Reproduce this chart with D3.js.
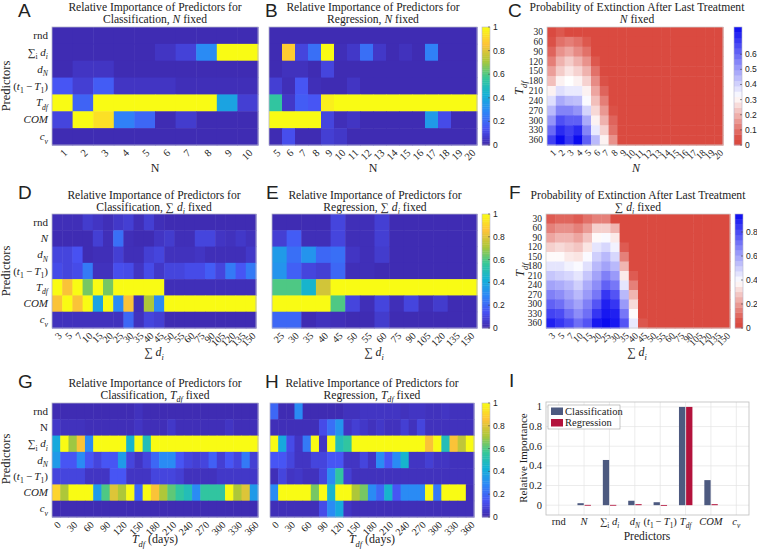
<!DOCTYPE html>
<html>
<head>
<meta charset="utf-8">
<script src="https://cdn.jsdelivr.net/npm/d3@7"></script>
<style>
body { margin: 0; background: #fff; }
svg { display: block; }
text { font-family: "Liberation Serif", "Times New Roman", serif; fill: #222; white-space: pre; }
text.sans { font-family: "Liberation Sans", Arial, sans-serif; }
</style>
</head>
<body>
<svg width="757" height="550"></svg>
<script>
/*
    predictor importance figure
*/

// label pieces: [text, style]  i = italic, s = subscript, si = italic subscript
var L = {
    rnd: [["rnd"]],
    N: [["N", "i"]],
    Nup: [["N"]],
    sumdi: [["∑"], ["i", "s"], [" "], ["d", "i"], ["i", "si"]],
    dN: [["d", "i"], ["N", "si"]],
    t1T1: [["("], ["t", "i"], ["1", "s"], ["\u2009−\u2009"], ["T", "i"], ["1", "s"], [")"]],
    Tdf: [["T", "i"], ["df", "si"]],
    COM: [["COM", "i"]],
    cv: [["c", "i"], ["v", "si"]]
};

var rowsA = [L.rnd, L.sumdi, L.dN, L.t1T1, L.Tdf, L.COM, L.cv];
var rowsD = [L.rnd, L.N, L.dN, L.t1T1, L.Tdf, L.COM, L.cv];
var rowsG = [L.rnd, L.Nup, L.sumdi, L.dN, L.t1T1, L.COM, L.cv];

var colsA = [1, 2, 3, 4, 5, 6, 7, 8, 9, 10];
var colsB = [5, 6, 7, 8, 9, 10, 11, 12, 13, 14, 15, 16, 17, 18, 19, 20];
var colsC = [1, 2, 3, 4, 5, 6, 7, 8, 9, 10, 11, 12, 13, 14, 15, 16, 17, 18, 19, 20];
var colsD = [3, 5, 7, 10, 15, 20, 25, 30, 35, 40, 45, 50, 55, 60, 75, 90, 105, 120, 135, 150];
var colsE = [25, 30, 35, 40, 45, 50, 55, 60, 75, 90, 105, 120, 135, 150];
var colsG = [0, 15, 30, 45, 60, 75, 90, 105, 120, 135, 150, 165, 180, 195, 210, 225, 240, 255, 270, 285, 300, 315, 330, 345, 360];
var ticksG = [0, 30, 60, 90, 120, 150, 180, 210, 240, 270, 300, 330, 360];
var tdfRows = [30, 60, 90, 120, 150, 180, 210, 240, 270, 300, 330, 360];

var valsA = [
    [0.02, 0.02, 0.02, 0.02, 0.02, 0.02, 0.02, 0.02, 0.02, 0.02],
    [0.02, 0.02, 0.02, 0.02, 0.02, 0.05, 0.09, 0.3, 1, 1],
    [0.02, 0.05, 0.05, 0.02, 0.02, 0.02, 0.02, 0.02, 0.02, 0.02],
    [0.15, 0.08, 0.17, 0.05, 0.05, 0.05, 0.03, 0.03, 0.03, 0.03],
    [1, 0.19, 1, 1, 1, 1, 1, 1, 0.38, 0.08],
    [0.1, 1, 0.93, 0.27, 0.2, 0.02, 0.07, 0.02, 0.02, 0.02],
    [0.02, 0.02, 0.02, 0.02, 0.02, 0.02, 0.02, 0.02, 0.02, 0.02]
];
var valsB = [
    [0.02, 0.02, 0.02, 0.02, 0.02, 0.02, 0.02, 0.02, 0.02, 0.02, 0.02, 0.02, 0.02, 0.02, 0.02, 0.02],
    [0.02, 0.88, 0.1, 0.22, 1, 0.03, 0.06, 0.22, 0.06, 0.02, 0.04, 0.02, 0.27, 0.02, 0.02, 0.02],
    [0.02, 0.04, 0.04, 0.02, 0.1, 0.02, 0.02, 0.02, 0.02, 0.02, 0.02, 0.02, 0.02, 0.02, 0.02, 0.02],
    [0.08, 0.03, 0.15, 0.03, 0.02, 0.02, 0.05, 0.02, 0.02, 0.02, 0.02, 0.02, 0.02, 0.02, 0.02, 0.02],
    [0.55, 0.06, 0.17, 0.15, 0.97, 1, 1, 1, 1, 1, 1, 1, 1, 1, 1, 1],
    [1, 1, 1, 1, 0.1, 0.03, 0.05, 0.02, 0.02, 0.02, 0.02, 0.02, 0.35, 0.12, 0.02, 0.02],
    [0.02, 0.13, 0.02, 0.02, 0.08, 0.06, 0.02, 0.02, 0.02, 0.02, 0.02, 0.02, 0.02, 0.02, 0.02, 0.02]
];
var probC = [
    [0.02, 0.06, 0.02, 0.02, 0, 0, 0, 0, 0, 0, 0, 0, 0, 0, 0, 0, 0, 0, 0, 0],
    [0.05, 0.1, 0.12, 0.1, 0.06, 0, 0, 0, 0, 0, 0, 0, 0, 0, 0, 0, 0, 0, 0, 0],
    [0.08, 0.15, 0.18, 0.14, 0.1, 0, 0, 0, 0, 0, 0, 0, 0, 0, 0, 0, 0, 0, 0, 0],
    [0.12, 0.2, 0.24, 0.2, 0.15, 0.06, 0, 0, 0, 0, 0, 0, 0, 0, 0, 0, 0, 0, 0, 0],
    [0.17, 0.24, 0.28, 0.25, 0.2, 0.1, 0, 0, 0, 0, 0, 0, 0, 0, 0, 0, 0, 0, 0, 0],
    [0.22, 0.3, 0.32, 0.3, 0.25, 0.14, 0.05, 0, 0, 0, 0, 0, 0, 0, 0, 0, 0, 0, 0, 0],
    [0.3, 0.38, 0.36, 0.36, 0.3, 0.18, 0.08, 0, 0, 0, 0, 0, 0, 0, 0, 0, 0, 0, 0, 0],
    [0.38, 0.48, 0.45, 0.44, 0.33, 0.22, 0.12, 0, 0, 0, 0, 0, 0, 0, 0, 0, 0, 0, 0, 0],
    [0.45, 0.55, 0.55, 0.52, 0.4, 0.26, 0.16, 0.05, 0, 0, 0, 0, 0, 0, 0, 0, 0, 0, 0, 0],
    [0.52, 0.65, 0.62, 0.62, 0.48, 0.3, 0.2, 0.08, 0, 0, 0, 0, 0, 0, 0, 0, 0, 0, 0, 0],
    [0.6, 0.72, 0.68, 0.72, 0.55, 0.36, 0.25, 0.1, 0, 0, 0, 0, 0, 0, 0, 0, 0, 0, 0, 0],
    [0.68, 0.78, 0.7, 0.78, 0.62, 0.45, 0.3, 0.15, 0, 0, 0, 0, 0, 0, 0, 0, 0, 0, 0, 0]
];
var valsD = [
    [0.03, 0.03, 0.03, 0.07, 0.05, 0.03, 0.06, 0.08, 0.03, 0.08, 0.03, 0.02, 0.02, 0.02, 0.02, 0.02, 0.02, 0.02, 0.02, 0.02],
    [0.02, 0.02, 0.02, 0.02, 0.08, 0.03, 0.22, 0.03, 0.02, 0.02, 0.05, 0.07, 0.03, 0.03, 0.1, 0.1, 0.05, 0.04, 0.06, 0.04],
    [0.1, 0.1, 0.14, 0.02, 0.03, 0.03, 0.08, 0.03, 0.03, 0.08, 0.1, 0.04, 0.04, 0.04, 0.05, 0.03, 0.03, 0.03, 0.03, 0.06],
    [0.12, 0.1, 0.12, 0.25, 0.04, 0.04, 0.13, 0.12, 0.05, 0.12, 0.06, 0.1, 0.1, 0.12, 0.12, 0.17, 0.1, 0.25, 0.15, 0.25],
    [1, 0.85, 1, 0.65, 1, 0.65, 1, 1, 1, 1, 1, 0.03, 0.03, 0.03, 0.03, 0.03, 0.03, 0.03, 0.03, 0.03],
    [0.85, 1, 0.85, 1, 0.38, 1, 0.3, 0.85, 0.03, 0.72, 0.3, 1, 1, 1, 1, 1, 1, 1, 1, 1],
    [0.04, 0.04, 0.04, 0.04, 0.04, 0.04, 0.04, 0.2, 0.04, 0.1, 0.08, 0.02, 0.02, 0.02, 0.02, 0.02, 0.02, 0.02, 0.02, 0.02]
];
var valsE = [
    [0.02, 0.02, 0.02, 0.02, 0.1, 0.03, 0.03, 0.08, 0.02, 0.02, 0.02, 0.02, 0.02, 0.02],
    [0.08, 0.17, 0.03, 0.03, 0.1, 0.03, 0.03, 0.08, 0.02, 0.02, 0.02, 0.02, 0.02, 0.02],
    [0.35, 0.22, 0.33, 0.2, 0.22, 0.05, 0.03, 0.07, 0.02, 0.02, 0.02, 0.02, 0.02, 0.02],
    [0.33, 0.18, 0.1, 0.08, 0.2, 0.03, 0.03, 0.02, 0.02, 0.02, 0.02, 0.02, 0.02, 0.02],
    [0.6, 0.6, 0.45, 0.78, 1, 1, 1, 1, 1, 1, 1, 1, 1, 1],
    [1, 1, 1, 1, 0.6, 0.1, 0.03, 0.1, 0.03, 0.1, 0.03, 0.07, 0.02, 0.02],
    [0.2, 0.2, 0.02, 0.04, 0.03, 0.02, 0.02, 0.07, 0.02, 0.02, 0.02, 0.02, 0.02, 0.02]
];
var probF = [
    [0.08, 0.1, 0.1, 0.08, 0.12, 0.15, 0.15, 0.05, 0, 0, 0, 0, 0, 0, 0, 0, 0, 0, 0, 0],
    [0.15, 0.18, 0.18, 0.15, 0.2, 0.3, 0.3, 0.25, 0, 0, 0, 0, 0, 0, 0, 0, 0, 0, 0, 0],
    [0.22, 0.25, 0.25, 0.22, 0.28, 0.38, 0.4, 0.35, 0, 0, 0, 0, 0, 0, 0, 0, 0, 0, 0, 0],
    [0.3, 0.32, 0.3, 0.28, 0.34, 0.45, 0.48, 0.42, 0.08, 0, 0, 0, 0, 0, 0, 0, 0, 0, 0, 0],
    [0.38, 0.38, 0.35, 0.34, 0.4, 0.5, 0.55, 0.48, 0.15, 0, 0, 0, 0, 0, 0, 0, 0, 0, 0, 0],
    [0.45, 0.45, 0.42, 0.4, 0.46, 0.55, 0.6, 0.55, 0.25, 0, 0, 0, 0, 0, 0, 0, 0, 0, 0, 0],
    [0.52, 0.5, 0.48, 0.45, 0.52, 0.6, 0.68, 0.62, 0.35, 0.08, 0, 0, 0, 0, 0, 0, 0, 0, 0, 0],
    [0.6, 0.58, 0.55, 0.5, 0.58, 0.65, 0.75, 0.7, 0.45, 0.15, 0, 0, 0, 0, 0, 0, 0, 0, 0, 0],
    [0.68, 0.65, 0.6, 0.55, 0.62, 0.7, 0.85, 0.78, 0.55, 0.25, 0, 0, 0, 0, 0, 0, 0, 0, 0, 0],
    [0.75, 0.72, 0.65, 0.6, 0.68, 0.78, 0.9, 0.85, 0.62, 0.32, 0, 0, 0, 0, 0, 0, 0, 0, 0, 0],
    [0.82, 0.8, 0.72, 0.65, 0.72, 0.85, 0.92, 0.9, 0.7, 0.38, 0, 0, 0, 0, 0, 0, 0, 0, 0, 0],
    [0.9, 0.85, 0.8, 0.72, 0.78, 0.92, 0.95, 0.92, 0.78, 0.44, 0.07, 0, 0, 0, 0, 0, 0, 0, 0, 0]
];
var valsG = [
    [0.02, 0.02, 0.02, 0.02, 0.02, 0.02, 0.02, 0.02, 0.02, 0.02, 0.04, 0.02, 0.02, 0.02, 0.02, 0.02, 0.02, 0.02, 0.02, 0.02, 0.02, 0.02, 0.02, 0.02, 0.02],
    [0.06, 0.04, 0.04, 0.04, 0.03, 0.03, 0.03, 0.03, 0.03, 0.03, 0.05, 0.03, 0.03, 0.03, 0.06, 0.03, 0.03, 0.03, 0.03, 0.03, 0.03, 0.05, 0.03, 0.03, 0.03],
    [0.4, 1, 0.7, 0.85, 0.3, 1, 1, 1, 1, 0.45, 1, 0.5, 1, 1, 1, 1, 1, 1, 1, 1, 1, 1, 1, 1, 1],
    [0.35, 0.15, 0.15, 0.3, 0.15, 0.1, 0.15, 0.15, 0.35, 0.1, 0.05, 0.1, 0.2, 0.3, 0.3, 0.15, 0.1, 0.08, 0.1, 0.18, 0.08, 0.15, 0.1, 0.25, 0.08],
    [0.1, 0.1, 0.1, 0.1, 0.05, 0.05, 0.05, 0.15, 0.15, 0.05, 0.05, 0.05, 0.1, 0.1, 0.1, 0.08, 0.04, 0.04, 0.04, 0.04, 0.06, 0.06, 0.06, 0.06, 0.06],
    [0.9, 0.72, 1, 1, 1, 0.35, 0.6, 0.8, 0.72, 1, 0.2, 1, 0.85, 0.72, 0.62, 0.55, 0.5, 0.3, 0.55, 0.55, 0.55, 1, 0.72, 0.8, 0.35],
    [0.02, 0.02, 0.02, 0.02, 0.02, 0.02, 0.02, 0.02, 0.02, 0.02, 0.02, 0.02, 0.02, 0.02, 0.02, 0.02, 0.02, 0.02, 0.02, 0.02, 0.02, 0.02, 0.02, 0.02, 0.02]
];
var valsH = [
    [0.2, 0.02, 0.02, 0.3, 0.02, 0.02, 0.02, 0.02, 0.02, 0.04, 0.04, 0.05, 0.05, 0.05, 0.05, 0.05, 0.04, 0.05, 0.05, 0.04, 0.04, 0.05, 0.04, 0.04, 0.04],
    [0.03, 0.03, 0.03, 0.03, 0.03, 0.03, 0.12, 0.22, 0.33, 0.05, 0.08, 0.06, 0.04, 0.06, 0.04, 0.04, 0.08, 0.04, 0.1, 0.04, 0.04, 0.04, 0.04, 0.04, 0.04],
    [1, 0.4, 0.12, 0.05, 0.25, 1, 0.05, 1, 0.5, 0.55, 1, 1, 1, 1, 1, 1, 1, 1, 1, 0.85, 1, 0.5, 0.85, 0.75, 1],
    [0.15, 0.15, 0.1, 0.05, 0.05, 0.1, 0.1, 0.15, 0.15, 0.05, 0.05, 0.1, 0.05, 0.3, 0.15, 0.3, 0.45, 0.05, 0.05, 0.08, 0.05, 0.05, 0.04, 0.04, 0.04],
    [0.03, 0.1, 0.05, 0.06, 0.04, 0.04, 0.1, 0.3, 0.55, 0.08, 0.04, 0.04, 0.04, 0.04, 0.04, 0.04, 0.04, 0.04, 0.04, 0.04, 0.04, 0.04, 0.04, 0.04, 0.04],
    [0.3, 1, 1, 1, 1, 0.65, 1, 0.45, 1, 1, 0.72, 0.65, 0.3, 0.2, 0.45, 0.15, 0.3, 0.3, 0.3, 1, 0.25, 1, 1, 1, 0.03],
    [0.03, 0.03, 0.03, 0.03, 0.03, 0.03, 0.12, 0.3, 0.4, 0.05, 0.03, 0.03, 0.03, 0.03, 0.03, 0.03, 0.03, 0.03, 0.03, 0.03, 0.03, 0.03, 0.03, 0.03, 0.03]
];

// panel I
var catsI = [L.rnd, L.N, L.sumdi, L.dN, L.t1T1, L.Tdf, L.COM, L.cv];
var clsI = [0, 0.02, 0.46, 0.045, 0.03, 1, 0.255, 0];
var regI = [0, 0.003, 0.003, 0.01, 0.002, 1, 0.01, 0];

var cbTicks = [0, 0.2, 0.4, 0.6, 0.8, 1];
var cbTicksC = [0, 0.1, 0.2, 0.3, 0.4, 0.5, 0.6];
var cbTicksF = [0, 0.2, 0.4, 0.6, 0.8];
var yTicksI = [0, 0.2, 0.4, 0.6, 0.8, 1];


var svg = d3.select("svg");

var parula = d3.scaleLinear()
    .domain([0, 1/7, 2/7, 3/7, 4/7, 5/7, 6/7, 1])
    .range(["#3e26a8", "#4852f4", "#2d87f7", "#11b1d6", "#37c897", "#abc739", "#fec338", "#f9fb14"])
    .clamp(true);

function redBlue(max) {
    return d3.scaleLinear()
        .domain([0, max * 0.05, max * 0.41, max])
        .range(["#da4a40", "#da4a40", "#ffffff", "#0a0af0"])
        .clamp(true);
}

function rich(t, tokens, fs) {
    var shift = 0;
    tokens.forEach(function(k) {
        var sub = k[1] == "s" || k[1] == "si";
        var want = sub ? fs * 0.3 : 0;
        t.append("tspan")
            .attr("dy", want - shift)
            .style("font-size", (sub ? fs * 0.7 : fs) + "px")
            .style("font-style", (k[1] == "i" || k[1] == "si") ? "italic" : "normal")
            .text(k[0]);
        shift = want;
    });
    return t;
}

function heatmap(o) {
    var g = svg.append("g");
    var x = d3.scaleBand().domain(o.cols).range([o.x0, o.x1]);
    var y = d3.scaleBand().domain(d3.range(o.vals.length)).range([o.y0, o.y1]);

    o.vals.forEach(function(row, r) {
        g.selectAll(null)
            .data(row)
            .enter()
            .append("rect")
            .attr("x", function(d, i) { return x(o.cols[i]); })
            .attr("y", y(r))
            .attr("width", x.bandwidth() + 0.5)
            .attr("height", y.bandwidth() + 0.5)
            .attr("fill", function(d) { return o.color(d); });
    });

    g.append("rect")
        .attr("x", o.x0).attr("y", o.y0)
        .attr("width", o.x1 - o.x0).attr("height", o.y1 - o.y0)
        .attr("fill", "none")
        .attr("stroke", o.border || "#b4b4cc")
        .attr("stroke-width", 0.8);

    // row labels
    if (o.rows) {
        o.rows.forEach(function(tok, r) {
            var t = g.append("text")
                .attr("x", o.x0 - 4)
                .attr("y", y(r) + y.bandwidth() / 2 + o.rowFs * 0.33)
                .attr("text-anchor", "end");
            if (typeof tok == "number") t.style("font-size", o.rowFs + "px").text(tok);
            else rich(t, tok, o.rowFs);
        });
    }

    // rotated column labels
    (o.ticks || o.cols).forEach(function(c) {
        g.append("text")
            .attr("transform", "translate(" + (x(c) + x.bandwidth() / 2 + 3) + "," + (o.y1 + 6) + ") rotate(-45)")
            .attr("text-anchor", "end")
            .attr("dy", "0.35em")
            .style("font-size", o.colFs + "px")
            .text(c);
    });
}

function colorbar(o) {
    var g = svg.append("g");
    var y = d3.scaleLinear().domain([0, o.max]).range([o.y1, o.y0]);
    var steps = d3.range(o.steps);
    var h = (o.y1 - o.y0) / o.steps;
    g.selectAll(null)
        .data(steps)
        .enter()
        .append("rect")
        .attr("x", o.x0)
        .attr("y", function(i) { return o.y1 - (i + 1) * h; })
        .attr("width", o.x1 - o.x0)
        .attr("height", h + 0.4)
        .attr("fill", function(i) { return o.color((i + 0.5) / o.steps * o.max); });
    g.append("rect")
        .attr("x", o.x0).attr("y", o.y0)
        .attr("width", o.x1 - o.x0).attr("height", o.y1 - o.y0)
        .attr("fill", "none").attr("stroke", "#b4b4cc").attr("stroke-width", 0.6);
    o.ticks.forEach(function(v) {
        g.append("line")
            .attr("x1", o.x1 - 2).attr("x2", o.x1)
            .attr("y1", y(v)).attr("y2", y(v))
            .attr("stroke", "#444").attr("stroke-width", 0.6);
        g.append("text")
            .attr("class", "sans")
            .attr("x", o.x1 + 3)
            .attr("y", y(v) + 3)
            .style("font-size", "8.5px")
            .text(v == 0 || v == 1 ? String(v) : v.toFixed(1));
    });
}

function letter(s, x, y) {
    svg.append("text").attr("class", "sans")
        .attr("x", x).attr("y", y)
        .style("font-size", "19px")
        .text(s);
}

function title(cx, yb, line1, line2) {
    svg.append("text")
        .attr("x", cx).attr("y", yb)
        .attr("text-anchor", "middle")
        .style("font-size", "11.6px")
        .text(line1);
    rich(svg.append("text").attr("x", cx).attr("y", yb + 12).attr("text-anchor", "middle"), line2, 11.6);
}

function label(tokens, x, y, fs, rot) {
    var t = svg.append("text")
        .attr("text-anchor", "middle")
        .attr("transform", "translate(" + x + "," + y + ")" + (rot ? " rotate(-90)" : ""));
    rich(t, tokens, fs);
}

var relTitle = "Relative Importance of Predictors for";
var sumD = [["∑ "], ["d", "i"], ["i", "si"]];

// ---- row 1 ----
letter("A", 18, 16.5);
title(155, 11, relTitle, [["Classification, "], ["N", "i"], [" fixed"]]);
heatmap({x0: 52, x1: 258, y0: 27, y1: 145, cols: colsA, vals: valsA, color: parula, rows: rowsA, rowFs: 11, colFs: 10.5});
label([["N"]], 155, 172, 12);
label([["Predictors"]], 10, 86, 12.5, true);

letter("B", 265, 16.5);
title(373, 11, relTitle, [["Regression, "], ["N", "i"], [" fixed"]]);
heatmap({x0: 269, x1: 477, y0: 27, y1: 145, cols: colsB, vals: valsB, color: parula, colFs: 10.5});
colorbar({x0: 482, x1: 490, y0: 27, y1: 145, max: 1, color: parula, ticks: cbTicks, steps: 64});
label([["N"]], 373, 172, 12);

letter("C", 508, 16.5);
title(637, 11, "Probability of Extinction After Last Treatment", [["N", "i"], [" fixed"]]);
var colC = redBlue(0.78);
heatmap({x0: 547, x1: 723, y0: 27, y1: 145, cols: colsC, vals: probC, color: colC, rows: tdfRows, rowFs: 9.5, colFs: 9.5, border: "#d0d0d0"});
colorbar({x0: 734, x1: 742, y0: 27, y1: 145, max: 0.78, color: colC, ticks: cbTicksC, steps: 22});
label([["N", "i"]], 636, 172, 12);
label(L.Tdf, 523, 88, 12.5, true);

// ---- row 2 ----
letter("D", 18, 199);
title(154, 198.5, relTitle, [["Classification, "]].concat(sumD, [[" fixed"]]));
heatmap({x0: 52, x1: 256, y0: 214, y1: 328, cols: colsD, vals: valsD, color: parula, rows: rowsD, rowFs: 11, colFs: 10});
label(sumD, 154, 356, 12);
label([["Predictors"]], 10, 271, 12.5, true);

letter("E", 266, 199);
title(375, 198.5, relTitle, [["Regression, "]].concat(sumD, [[" fixed"]]));
heatmap({x0: 272, x1: 477, y0: 214, y1: 328, cols: colsE, vals: valsE, color: parula, colFs: 10});
colorbar({x0: 482, x1: 490, y0: 214, y1: 328, max: 1, color: parula, ticks: cbTicks, steps: 64});
label(sumD, 374, 356, 12);

letter("F", 509, 199);
title(638, 198.5, "Probability of Extinction After Last Treatment", sumD.concat([[" fixed"]]));
var colF = redBlue(0.95);
heatmap({x0: 546, x1: 730, y0: 214, y1: 328, cols: colsD, vals: probF, color: colF, rows: tdfRows, rowFs: 9.5, colFs: 9.5, border: "#d0d0d0"});
colorbar({x0: 735, x1: 743, y0: 214, y1: 328, max: 0.95, color: colF, ticks: cbTicksF, steps: 22});
label(sumD, 637, 356, 12);
label(L.Tdf, 524, 270, 12.5, true);

// ---- row 3 ----
letter("G", 18, 388);
title(155, 387, relTitle, [["Classification, "], ["T", "i"], ["df", "si"], [" fixed"]]);
heatmap({x0: 52, x1: 258, y0: 403, y1: 517, cols: colsG, vals: valsG, color: parula, rows: rowsG, rowFs: 11, colFs: 10, ticks: ticksG});
label([["T", "i"], ["df", "si"], [" (days)"]], 155, 543, 12);
label([["Predictors"]], 10, 459, 12.5, true);

letter("H", 265, 388);
title(372, 387, relTitle, [["Regression, "], ["T", "i"], ["df", "si"], [" fixed"]]);
heatmap({x0: 270, x1: 474, y0: 403, y1: 517, cols: colsG, vals: valsH, color: parula, colFs: 10, ticks: ticksG});
colorbar({x0: 482, x1: 490, y0: 403, y1: 517, max: 1, color: parula, ticks: cbTicks, steps: 64});
label([["T", "i"], ["df", "si"], [" (days)"]], 372, 543, 12);

// ---- panel I ----
letter("I", 509, 387);
var xI = d3.scaleBand().domain(d3.range(catsI.length)).range([546, 749]);
var yI = d3.scaleLinear().domain([-0.1, 1.05]).range([515, 402]);
var x1 = d3.scaleBand().domain(["Classification", "Regression"])
    .range([xI.bandwidth() * 0.24, xI.bandwidth() * 0.77]).paddingInner(0.12);
var colI = {Classification: "#4d5a80", Regression: "#b3123c"};

var gi = svg.append("g");
gi.selectAll(".gy").data(yTicksI).enter().append("line")
    .attr("x1", 546).attr("x2", 749)
    .attr("y1", function(d) { return yI(d); }).attr("y2", function(d) { return yI(d); })
    .attr("stroke", "#e4e4e4").attr("stroke-width", 0.7);
gi.selectAll(".gx").data(d3.range(catsI.length)).enter().append("line")
    .attr("x1", function(d) { return xI(d) + xI.bandwidth() / 2; })
    .attr("x2", function(d) { return xI(d) + xI.bandwidth() / 2; })
    .attr("y1", 402).attr("y2", 515)
    .attr("stroke", "#e4e4e4").attr("stroke-width", 0.7);

[["Classification", clsI], ["Regression", regI]].forEach(function(s) {
    gi.selectAll(null).data(s[1]).enter().append("rect")
        .attr("x", function(d, i) { return xI(i) + x1(s[0]); })
        .attr("y", function(d) { return yI(Math.max(d, 0)); })
        .attr("width", x1.bandwidth())
        .attr("height", function(d) { return Math.max(yI(0) - yI(d), d > 0 ? 0.8 : 0); })
        .attr("fill", colI[s[0]]);
});

gi.append("rect")
    .attr("x", 546).attr("y", 402).attr("width", 203).attr("height", 113)
    .attr("fill", "none").attr("stroke", "#bdbdbd").attr("stroke-width", 0.8);

yTicksI.forEach(function(v) {
    gi.append("text")
        .attr("x", 542).attr("y", yI(v) + 3.5)
        .attr("text-anchor", "end")
        .style("font-size", "10.5px")
        .text(v == 0 || v == 1 ? String(v) : v.toFixed(1));
});
catsI.forEach(function(tok, i) {
    rich(gi.append("text")
        .attr("x", xI(i) + xI.bandwidth() / 2)
        .attr("y", 524.5)
        .attr("text-anchor", "middle"), tok, 10.5);
});
label([["Predictors"]], 647, 540, 11.5);
label([["Relative Importance"]], 527, 458, 11, true);

// legend
var lg = gi.append("g");
lg.append("rect").attr("x", 548).attr("y", 405).attr("width", 72).attr("height", 24)
    .attr("fill", "#fff").attr("stroke", "#a0a0a0").attr("stroke-width", 0.6);
["Classification", "Regression"].forEach(function(k, i) {
    lg.append("rect").attr("x", 551).attr("y", 407.5 + i * 11.5).attr("width", 12).attr("height", 7.5)
        .attr("fill", colI[k]);
    lg.append("text").attr("x", 565).attr("y", 414.5 + i * 11.5)
        .style("font-size", "10.5px").text(k);
});
</script>
</body>
</html>
